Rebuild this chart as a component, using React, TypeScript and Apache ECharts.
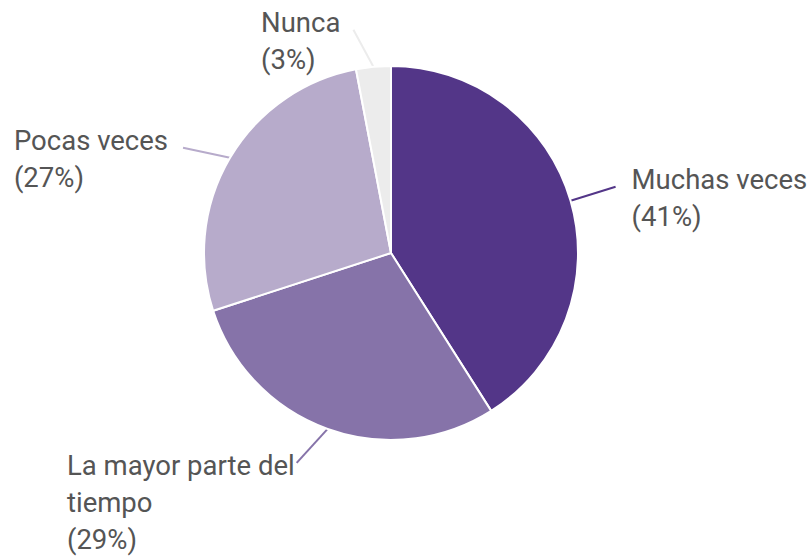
import React, { useEffect, useRef } from 'react';
import * as echarts from 'echarts';

const categories = ['Muchas veces', 'La mayor parte del tiempo', 'Pocas veces', 'Nunca'];
const values = [41, 29, 27, 3];
const colors = ['#533688', '#8673a9', '#b7abcb', '#ececec'];

// layout: leader line end offsets from the slice edge, and gap between line end and text
const leaderOffsets = [[45, -14], [-31, 34], [-47, -10], [-20, -37]];
const labelGaps = [16, 2, 15, 13];
const CX = 391;
const CY = 253;

function wrap(s: string, max = 18): string {
  const words = s.split(' ');
  const lines: string[] = [];
  let cur = '';
  for (const w of words) {
    const next = cur ? cur + ' ' + w : w;
    if (next.length > max && cur) {
      lines.push(cur);
      cur = w;
    } else cur = next;
  }
  if (cur) lines.push(cur);
  return lines.join('\n');
}

export default function App() {
  const ref = useRef<HTMLDivElement>(null);
  useEffect(() => {
    if (!ref.current) return;
    const chart = echarts.init(ref.current, undefined, { renderer: 'svg' });
    chart.setOption({
      animation: false,
      backgroundColor: '#ffffff',
      series: [
        {
          type: 'pie',
          center: [CX, CY],
          radius: 187,
          startAngle: 90,
          clockwise: true,
          avoidLabelOverlap: false,
          itemStyle: { borderColor: '#ffffff', borderWidth: 2 },
          label: {
            show: true,
            position: 'outside',
            formatter: (p: any) => wrap(p.name) + '\n(' + Math.round(p.percent) + '%)',
            fontFamily: 'Roboto',
            fontSize: 27.5,
            lineHeight: 37,
            color: '#555555',
          },
          labelLine: { show: true, length: 20, length2: 10, lineStyle: { width: 2 } },
          labelLayout: (p: any) => {
            const i = p.dataIndex;
            const pts = p.labelLinePoints;
            if (!pts) return {};
            const p0 = pts[0];
            const [ox, oy] = leaderOffsets[i];
            const ex = p0[0] + ox;
            const ey = p0[1] + oy;
            const w = p.labelRect.width;
            const x = ox > 0 ? ex + labelGaps[i] : ex - labelGaps[i] - w;
            const y = ey > CY ? ey - 16 : ey - 26;
            return {
              x,
              y,
              align: 'left',
              verticalAlign: 'top',
              labelLinePoints: [
                [p0[0], p0[1]],
                [ex, ey],
              ],
            };
          },
          data: categories.map((c, i) => ({
            name: c,
            value: values[i],
            itemStyle: { color: colors[i] },
          })),
        },
      ],
    });
    return () => chart.dispose();
  }, []);
  return (
    <div
      ref={ref}
      style={{ position: 'absolute', left: 0, top: 0, width: 810, height: 558 }}
    />
  );
}
